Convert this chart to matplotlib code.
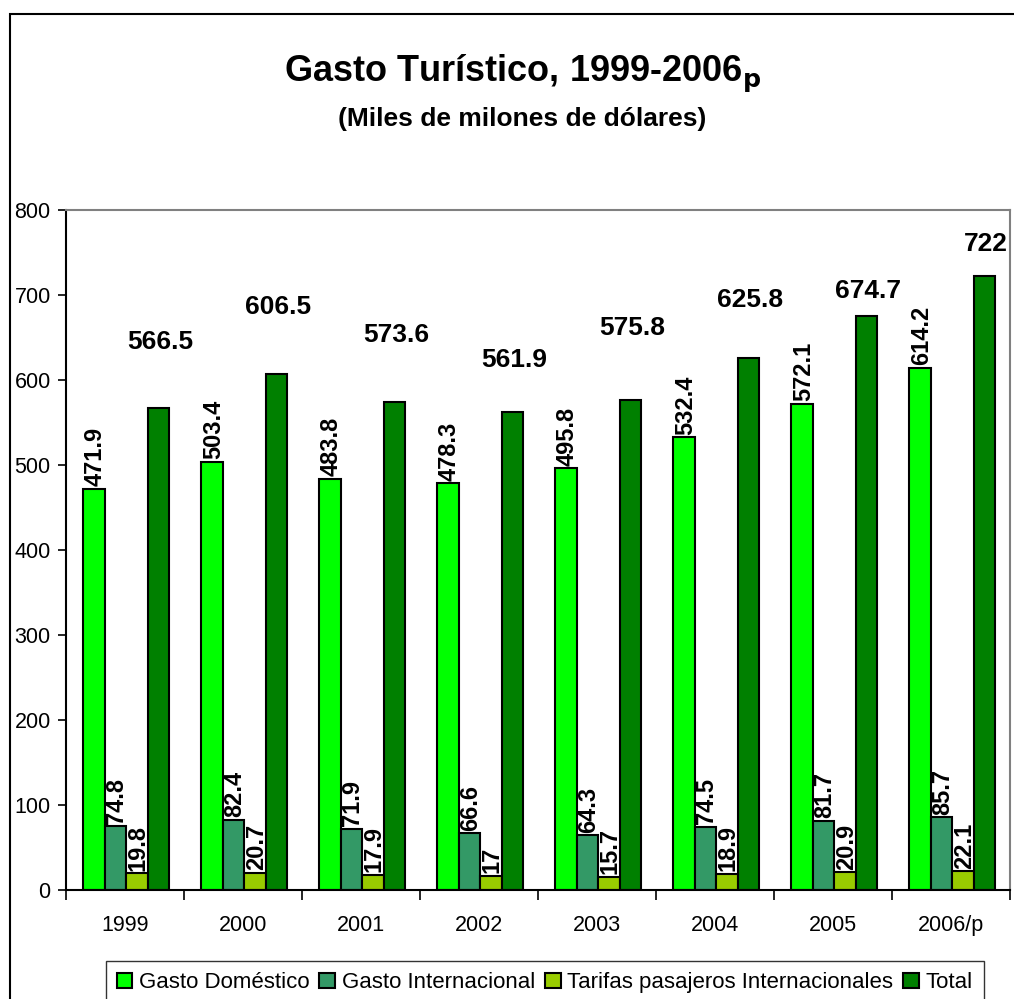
import numpy as np
import matplotlib.pyplot as plt
from matplotlib.patches import Rectangle

plt.rcParams['font.family'] = ['Liberation Sans', 'DejaVu Sans']

# --- datos ---
years = ['1999', '2000', '2001', '2002', '2003', '2004', '2005', '2006/p']
gasto_domestico = [471.9, 503.4, 483.8, 478.3, 495.8, 532.4, 572.1, 614.2]
gasto_internacional = [74.8, 82.4, 71.9, 66.6, 64.3, 74.5, 81.7, 85.7]
tarifas_pasajeros = [19.8, 20.7, 17.9, 17, 15.7, 18.9, 20.9, 22.1]
total = [566.5, 606.5, 573.6, 561.9, 575.8, 625.8, 674.7, 722]

series = [
    ('Gasto Doméstico', gasto_domestico, '#00FF00'),
    ('Gasto Internacional', gasto_internacional, '#339966'),
    ('Tarifas pasajeros Internacionales', tarifas_pasajeros, '#99CC00'),
    ('Total', total, '#008000'),
]

# offsets of the total labels above the bars (manual in the original)
total_label_offsets = [78, 79, 79, 61, 85, 68, 30, 38]

fig = plt.figure(figsize=(10.14, 9.99), dpi=100)
ax = fig.add_axes([0.0651, 0.109, 0.9309, 0.681])

x = np.arange(len(years))
w = 0.182
for i, (name, vals, col) in enumerate(series):
    pos = x + (i - 1.5) * w + 0.012
    ax.bar(pos, vals, width=w, color=col, edgecolor='black', linewidth=1.5, label=name)
    for p, v, k in zip(pos, vals, range(len(vals))):
        txt = f'{v:g}'
        if name == 'Total':
            ax.text(p + 0.01, v + total_label_offsets[k], txt, ha='center', va='center',
                    fontsize=19, fontweight='bold')
        else:
            ax.text(p + 0.01, v + 3, txt, ha='center', va='bottom', rotation=90,
                    fontsize=17, fontweight='bold')

ax.set_xlim(-0.5, len(years) - 0.5)
ax.set_ylim(0, 800)
ax.set_yticks(range(0, 801, 100))
ax.set_xticks(np.arange(-0.5, len(years), 1.0))
ax.set_xticklabels([])
ax.set_xticks(x, minor=True)
ax.set_xticklabels(years, minor=True)
ax.tick_params(axis='x', which='minor', length=0, pad=18, labelsize=15.5)
ax.tick_params(axis='x', which='major', length=7, width=1.2, direction='out')
ax.tick_params(axis='y', length=6, width=1.2, direction='out', labelsize=15.5, pad=5)

for s in ['left', 'bottom']:
    ax.spines[s].set_color('black')
    ax.spines[s].set_linewidth(1.5)
for s in ['top', 'right']:
    ax.spines[s].set_color('#808080')
    ax.spines[s].set_linewidth(1.5)

# titulo
fig.text(0.515, 0.926, 'Gasto Turístico, 1999-2006$_{\\mathbf{p}}$', ha='center', va='center',
         fontsize=26, fontweight='bold')
fig.text(0.515, 0.881, '(Miles de milones de dólares)', ha='center', va='center',
         fontsize=19, fontweight='bold')

leg = ax.legend(loc='upper center', bbox_to_anchor=(0.507, -0.088), ncol=4,
                frameon=True, fancybox=False, edgecolor='black', fontsize=16,
                handlelength=0.7, handleheight=0.7, handletextpad=0.3,
                columnspacing=0.45, borderpad=0.5)
leg.get_frame().set_linewidth(1.0)

# marco exterior del grafico
fig.patches.append(Rectangle((10 / 1014, -0.1), 1.2, 0.1 + 1 - 14 / 999,
                             transform=fig.transFigure, fill=False,
                             edgecolor='black', linewidth=1.5))

plt.savefig('out.png', dpi=100)
